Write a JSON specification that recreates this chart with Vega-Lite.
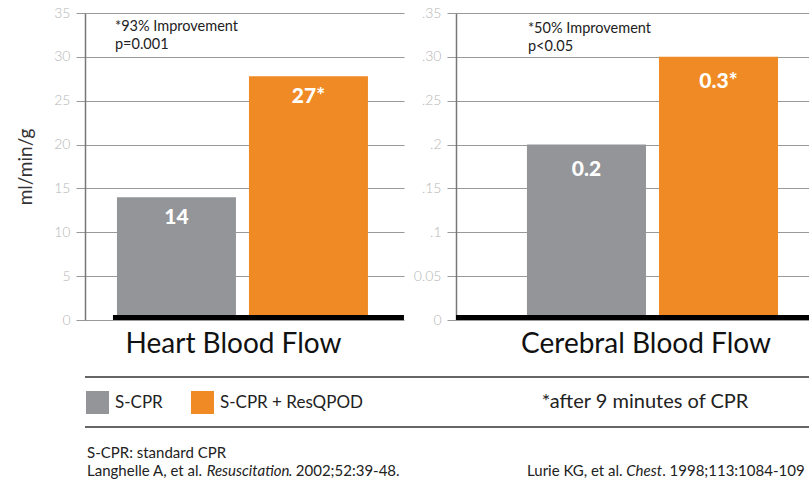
{
  "$schema": "https://vega.github.io/schema/vega-lite/v6.json",
  "padding": {"left": 16, "top": 6, "right": 0, "bottom": 0},
  "background": "white",
  "config": {
    "font": "Lato",
    "view": {"stroke": null},
    "axis": {"labelFont": "Lato", "titleFont": "Lato"}
  },
  "datasets": {
    "bars": [
      {"panel": "Heart Blood Flow", "group": "S-CPR", "value": 14, "label": "14"},
      {"panel": "Heart Blood Flow", "group": "S-CPR + ResQPOD", "value": 27.8, "label": "27*"},
      {"panel": "Cerebral Blood Flow", "group": "S-CPR", "value": 0.2, "label": "0.2"},
      {"panel": "Cerebral Blood Flow", "group": "S-CPR + ResQPOD", "value": 0.3, "label": "0.3*"}
    ]
  },
  "spacing": 11,
  "vconcat": [
    {
      "spacing": 6,
      "hconcat": [
        {
          "width": 319,
          "height": 307,
          "data": {"name": "bars"},
          "transform": [{"filter": "datum.panel == 'Heart Blood Flow'"}],
          "layer": [
            {
              "mark": {"type": "bar"},
              "encoding": {
                "x": {
                  "field": "group", "type": "nominal", "sort": null,
                  "scale": {"domain": ["S-CPR", "S-CPR + ResQPOD"], "paddingInner": 0.0985, "paddingOuter": 0.2576, "align": 0.47},
                  "axis": {"title": "Heart Blood Flow", "labels": false, "ticks": false, "domain": false, "grid": false,
                           "titleFontSize": 28, "titleFontWeight": "normal", "titleColor": "#111", "titlePadding": 10, "titleX": 148}
                },
                "y": {
                  "field": "value", "type": "quantitative",
                  "scale": {"domain": [0, 35], "nice": false},
                  "axis": {"title": "ml/min/g", "values": [0, 5, 10, 15, 20, 25, 30, 35],
                           "titleFontSize": 19, "titleColor": "#333", "titleFontWeight": "normal", "titlePadding": 18,
                           "labelFontSize": 14, "labelColor": "#b5b5b5", "labelFontWeight": 300, "labelPadding": 6,
                           "tickSize": 9, "tickColor": "#999", "grid": true, "gridColor": "#999", "gridWidth": 1,
                           "domainColor": "#777", "domainWidth": 1.5}
                },
                "color": {
                  "field": "group", "type": "nominal",
                  "scale": {"domain": ["S-CPR", "S-CPR + ResQPOD"], "range": ["#939598", "#EF8A24"]},
                  "legend": {"title": null, "orient": "none", "legendX": 1, "legendY": 378, "direction": "horizontal",
                             "symbolType": "square", "symbolSize": 529, "symbolStrokeWidth": 0, "symbolOpacity": 1,
                             "labelFontSize": 17, "labelColor": "#222", "labelOffset": 6, "columnPadding": 28,
                             "padding": 0, "labelFont": "Lato"}
                }
              }
            },
            {
              "mark": {"type": "text", "baseline": "top", "dy": 10, "color": "white", "fontWeight": 900, "fontSize": 21},
              "encoding": {
                "x": {"field": "group", "type": "nominal", "sort": null},
                "y": {"field": "value", "type": "quantitative"},
                "text": {"field": "label"}
              }
            },
            {
              "data": {"values": [{}]},
              "mark": {"type": "rule", "color": "black", "strokeWidth": 5, "yOffset": -2.5, "xOffset": -4, "x2Offset": 36},
              "encoding": {
                "y": {"datum": 0, "type": "quantitative"},
                "x": {"datum": "S-CPR", "type": "nominal", "bandPosition": 0},
                "x2": {"datum": "S-CPR + ResQPOD", "bandPosition": 1}
              }
            },
            {
              "data": {"values": [{}]},
              "mark": {"type": "text", "align": "left", "baseline": "top", "dx": -2, "dy": 7, "fontSize": 14.5, "color": "#222",
                       "lineHeight": 18, "text": ["*93% Improvement", "p=0.001"]},
              "encoding": {
                "x": {"datum": "S-CPR", "type": "nominal", "bandPosition": 0},
                "y": {"datum": 35, "type": "quantitative"}
              }
            }
          ]
        },
        {
          "width": 353,
          "height": 307,
          "data": {"name": "bars"},
          "transform": [{"filter": "datum.panel == 'Cerebral Blood Flow'"}],
          "layer": [
            {
              "mark": {"type": "bar"},
              "encoding": {
                "x": {
                  "field": "group", "type": "nominal", "sort": null,
                  "scale": {"domain": ["S-CPR", "S-CPR + ResQPOD"], "paddingInner": 0.0985, "paddingOuter": 0.386, "align": 0.696},
                  "axis": {"title": "Cerebral Blood Flow", "labels": false, "ticks": false, "domain": false, "grid": false,
                           "titleFontSize": 28, "titleFontWeight": "normal", "titleColor": "#111", "titlePadding": 10, "titleX": 189.5}
                },
                "y": {
                  "field": "value", "type": "quantitative",
                  "scale": {"domain": [0, 0.35], "nice": false},
                  "axis": {"title": null, "values": [0, 0.05, 0.1, 0.15, 0.2, 0.25, 0.3, 0.35],
                           "labelExpr": "datum.value == 0 ? '0' : datum.value == 0.05 ? '0.05' : datum.value == 0.3 ? '.30' : replace(format(datum.value, '.2~f'), '0.', '.')",
                           "labelFontSize": 14, "labelColor": "#b5b5b5", "labelFontWeight": 300, "labelPadding": 6,
                           "tickSize": 9, "tickColor": "#999", "grid": true, "gridColor": "#999", "gridWidth": 1,
                           "domainColor": "#777", "domainWidth": 1.5}
                },
                "color": {
                  "field": "group", "type": "nominal",
                  "scale": {"domain": ["S-CPR", "S-CPR + ResQPOD"], "range": ["#939598", "#EF8A24"]}
                }
              }
            },
            {
              "mark": {"type": "text", "baseline": "top", "dy": 14, "color": "white", "fontWeight": 900, "fontSize": 21},
              "encoding": {
                "x": {"field": "group", "type": "nominal", "sort": null},
                "y": {"field": "value", "type": "quantitative"},
                "text": {"field": "label"}
              }
            },
            {
              "data": {"values": [{}]},
              "mark": {"type": "rule", "color": "black", "strokeWidth": 5, "yOffset": -2.5},
              "encoding": {
                "y": {"datum": 0, "type": "quantitative"}
              }
            },
            {
              "data": {"values": [{}]},
              "mark": {"type": "text", "align": "left", "baseline": "top", "dx": 1, "dy": 9, "fontSize": 14.5, "color": "#222",
                       "lineHeight": 18, "text": ["*50% Improvement", "p<0.05"]},
              "encoding": {
                "x": {"datum": "S-CPR", "type": "nominal", "bandPosition": 0},
                "y": {"datum": 0.35, "type": "quantitative"}
              }
            }
          ]
        }
      ]
    },
    {
      "width": 724,
      "height": 110,
      "data": {"values": [{}]},
      "layer": [
        {
          "mark": {"type": "rule", "color": "#333", "strokeWidth": 1.5},
          "encoding": {
            "x": {"datum": 0, "type": "quantitative", "scale": {"domain": [0, 100], "nice": false, "zero": false}, "axis": null},
            "x2": {"datum": 100},
            "y": {"datum": 92.73, "type": "quantitative", "scale": {"domain": [0, 100], "nice": false, "zero": false}, "axis": null}
          }
        },
        {
          "mark": {"type": "rule", "color": "#333", "strokeWidth": 1.5},
          "encoding": {
            "x": {"datum": 0, "type": "quantitative"},
            "x2": {"datum": 100},
            "y": {"datum": 47.27, "type": "quantitative"}
          }
        },
        {
          "mark": {"type": "text", "align": "center", "baseline": "middle", "fontSize": 20, "color": "#222", "text": "*after 9 minutes of CPR"},
          "encoding": {
            "x": {"datum": 77.35, "type": "quantitative"},
            "y": {"datum": 70, "type": "quantitative"}
          }
        },
        {
          "mark": {"type": "text", "align": "left", "baseline": "alphabetic", "fontSize": 15, "color": "#222", "text": "S-CPR: standard CPR"},
          "encoding": {
            "x": {"datum": 0.28, "type": "quantitative"},
            "y": {"datum": 19.09, "type": "quantitative"}
          }
        },
        {
          "mark": {"type": "text", "align": "left", "baseline": "alphabetic", "fontSize": 15, "color": "#222", "text": "Langhelle A, et al."},
          "encoding": {
            "x": {"datum": 0.28, "type": "quantitative"},
            "y": {"datum": 2.73, "type": "quantitative"}
          }
        },
        {
          "mark": {"type": "text", "align": "left", "baseline": "alphabetic", "fontSize": 15, "fontStyle": "italic", "color": "#222", "text": "Resuscitation"},
          "encoding": {
            "x": {"datum": 16.8, "type": "quantitative"},
            "y": {"datum": 2.73, "type": "quantitative"}
          }
        },
        {
          "mark": {"type": "text", "align": "left", "baseline": "alphabetic", "fontSize": 15, "color": "#222", "text": ". 2002;52:39-48."},
          "encoding": {
            "x": {"datum": 28.1, "type": "quantitative"},
            "y": {"datum": 2.73, "type": "quantitative"}
          }
        },
        {
          "mark": {"type": "text", "align": "left", "baseline": "alphabetic", "fontSize": 15, "color": "#222", "text": "Lurie KG, et al."},
          "encoding": {
            "x": {"datum": 61.05, "type": "quantitative"},
            "y": {"datum": 2.73, "type": "quantitative"}
          }
        },
        {
          "mark": {"type": "text", "align": "left", "baseline": "alphabetic", "fontSize": 15, "fontStyle": "italic", "color": "#222", "text": "Chest"},
          "encoding": {
            "x": {"datum": 74.75, "type": "quantitative"},
            "y": {"datum": 2.73, "type": "quantitative"}
          }
        },
        {
          "mark": {"type": "text", "align": "left", "baseline": "alphabetic", "fontSize": 15, "color": "#222", "text": ". 1998;113:1084-1090.", "limit": 147, "ellipsis": "\u200b"},
          "encoding": {
            "x": {"datum": 79.72, "type": "quantitative"},
            "y": {"datum": 2.73, "type": "quantitative"}
          }
        }
      ]
    }
  ]
}
